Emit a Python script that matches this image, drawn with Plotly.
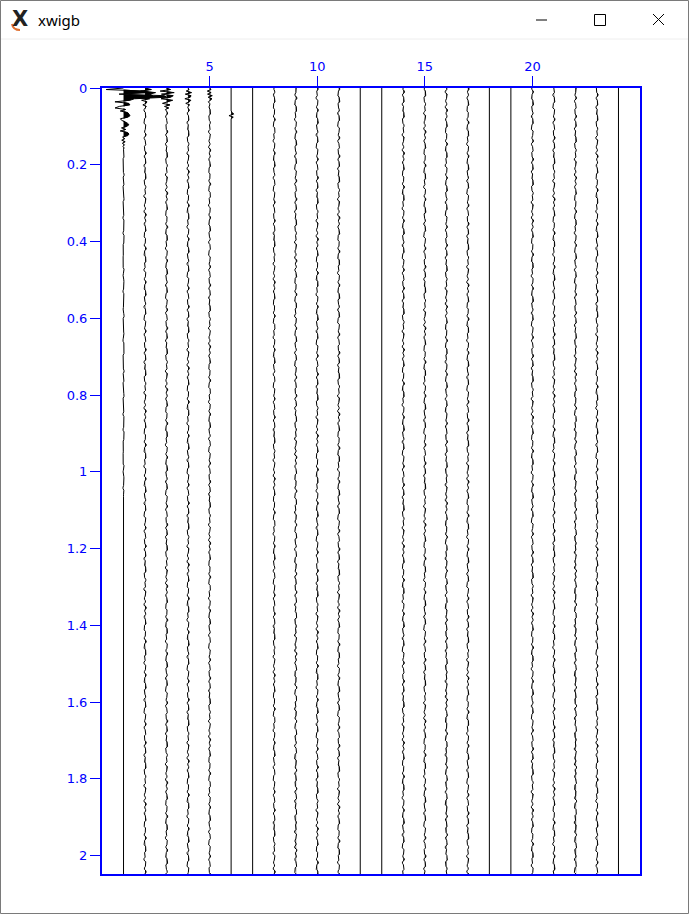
import numpy as np
import plotly.graph_objects as go

# ---------------- data ----------------
trace_numbers = list(range(1, 25))
# relative noise level of each trace (0 = flat trace)
trace_gain = [0.025, 0.055, 0.055, 0.055, 0.05, 0.0, 0.0, 0.05, 0.055, 0.055, 0.055, 0.0,
              0.0, 0.055, 0.055, 0.055, 0.055, 0.0, 0.0, 0.055, 0.055, 0.055, 0.055, 0.0]
sample_interval = 0.004
record_length = 2.048
trace1_noise_end = 1.05

# background noise (unitless, scaled by trace_gain)
noise_pattern = [0.2, -0.6, 0.9, -0.3, -0.8, 0.5, 0.7, -0.4, 0.1, -0.9, 0.6, 0.3,
                 -0.5, 0.8, -0.2, -0.7, 0.4, 0.9, -0.6, -0.1, 0.5, -0.8, 0.3, 0.7,
                 -0.4, -0.9, 0.6, 0.2, -0.3, 0.8, -0.7, 0.1, 0.6, -0.5, -0.2, 0.9,
                 -0.6, 0.3, 0.7, -0.8, 0.2, -0.4, 0.5, 0.8, -0.7, -0.3, 0.6, -0.1,
                 0.4, -0.9, 0.7, 0.1, -0.5, 0.3, -0.8, 0.9, -0.2, 0.5, -0.6, 0.2,
                 0.8, -0.4, -0.7, 0.4]

# early arrivals (amplitude in trace units, one value per sample from t = 0)
trace1_early = [0.0, -0.8, 1.0, 1.2, -0.2, 1.9, 2.0, 0.5, 0.3, -0.4, 0.25, 0.3,
                -0.2, -0.4, 0.1, -0.15, 0.2, 0.25, 0.3, 0.2, -0.15, -0.1, 0.1, 0.2,
                0.25, 0.15, -0.1, 0.1, -0.15, 0.2, 0.25, 0.2, -0.05, 0.05, -0.08, 0.08,
                -0.05, 0.05, -0.03, 0.02, 0.0]
trace2_early = [0.0, 0.3, -0.2, 0.5, 0.2, 0.35, -0.3, 0.2, -0.15, 0.1, 0.05, -0.1, 0.05, 0.0]
trace3_early = [0.0, 0.2, -0.3, 0.35, -0.25, 0.3, 0.2, -0.25, 0.3, 0.1, -0.2, 0.15,
                -0.1, 0.1, -0.05, 0.0]
trace4_early = [0.0, 0.05, -0.1, 0.15, -0.12, 0.15, 0.1, -0.15, 0.12, 0.05, -0.1, 0.08, 0.0]
trace5_early = [0.0, 0.05, -0.1, 0.08, -0.1, 0.12, -0.08, 0.1, 0.05, -0.05, 0.0]
trace6_early = [0.0, 0.0, 0.0, 0.0, 0.0, 0.0, 0.0, 0.0, 0.0, 0.0, 0.0, 0.0, 0.0, 0.0,
                0.0, 0.0, 0.05, 0.12, -0.1, 0.1, 0.0]

x_tick_values = [5, 10, 15, 20]
y_tick_step = 0.2

# ---------------- build traces ----------------
times = np.arange(0, record_length + 1e-9, sample_interval)
n = len(times)
early = {1: trace1_early, 2: trace2_early, 3: trace3_early,
         4: trace4_early, 5: trace5_early, 6: trace6_early}

line_x, line_y, fill_x, fill_y = [], [], [], []
npat = len(noise_pattern)
for k, tr in enumerate(trace_numbers):
    g = trace_gain[k]
    amp = np.array([g * noise_pattern[(i // 2 + 7 * tr) % npat] for i in range(n)])
    if tr == 1:
        amp[times > trace1_noise_end] = 0.0
    if tr in early:
        ev = early[tr]
        m = len(ev)
        amp[:m] = amp[:m] * 0.3 + np.array(ev)
    xs = tr + amp
    line_x += list(xs) + [None]
    line_y += list(times) + [None]
    pos = tr + np.maximum(amp, 0)
    fill_x += list(pos) + [tr] * n + [None]
    fill_y += list(times) + list(times[::-1]) + [None]

fig = go.Figure()
fig.add_trace(go.Scatter(x=fill_x, y=fill_y, mode="lines", fill="toself",
                         fillcolor="black", line=dict(width=0, color="black"),
                         hoverinfo="skip", showlegend=False))
fig.add_trace(go.Scatter(x=line_x, y=line_y, mode="lines",
                         line=dict(width=1, color="black"),
                         hoverinfo="skip", showlegend=False))

W, H = 690, 915
L, R, T, B = 102, 50, 88, 41
PW, PH = W - L - R, H - T - B


def px(xp):
    return (xp - L) / PW


def py(yp):
    return (H - B - yp) / PH


blue = "#0000ff"
fig.update_layout(
    width=W, height=H, autosize=False,
    margin=dict(l=L, r=R, t=T, b=B, pad=0),
    paper_bgcolor="white", plot_bgcolor="white",
    xaxis=dict(range=[0, 25], side="top", tickvals=x_tick_values,
               ticks="outside", ticklen=10, tickcolor=blue, tickwidth=1,
               showline=True, linecolor=blue, linewidth=2, mirror=True,
               showgrid=False, zeroline=False,
               tickfont=dict(family="DejaVu Sans", size=13, color=blue)),
    yaxis=dict(range=[record_length, 0], dtick=y_tick_step, tick0=0,
               ticks="outside", ticklen=10, tickcolor=blue, tickwidth=1,
               showline=True, linecolor=blue, linewidth=2, mirror=True,
               showgrid=False, zeroline=False,
               tickfont=dict(family="DejaVu Sans", size=13, color=blue)),
)

# ---------------- window chrome ----------------
shapes = [
    dict(type="rect", xref="paper", yref="paper", x0=px(0.5), x1=px(688.5),
         y0=py(913.5), y1=py(0.5), line=dict(color="#7a7a7a", width=1)),
    dict(type="line", xref="paper", yref="paper", x0=px(1), x1=px(688),
         y0=py(39), y1=py(39), line=dict(color="#eeeeee", width=1)),
    dict(type="line", xref="paper", yref="paper", x0=px(536), x1=px(547),
         y0=py(20), y1=py(20), line=dict(color="black", width=1)),
    dict(type="rect", xref="paper", yref="paper", x0=px(594.5), x1=px(605.5),
         y0=py(25.5), y1=py(14.5), line=dict(color="black", width=1)),
    dict(type="line", xref="paper", yref="paper", x0=px(653), x1=px(664),
         y0=py(14), y1=py(25), line=dict(color="black", width=1)),
    dict(type="line", xref="paper", yref="paper", x0=px(653), x1=px(664),
         y0=py(25), y1=py(14), line=dict(color="black", width=1)),
    dict(type="path", xref="paper", yref="paper",
         path=f"M {px(12)},{py(24)} Q {px(13)},{py(30)} {px(20)},{py(30)}",
         line=dict(color="#e07030", width=2)),
]
fig.update_layout(shapes=shapes)
fig.add_annotation(xref="paper", yref="paper", x=px(36), y=py(20), text="xwigb",
                   showarrow=False, xanchor="left", yanchor="middle",
                   font=dict(family="Noto Sans", size=15, color="black"))
fig.add_annotation(xref="paper", yref="paper", x=px(20), y=py(19), text="<b>X</b>",
                   showarrow=False, xanchor="center", yanchor="middle",
                   font=dict(family="DejaVu Sans", size=21, color="#222222"))

fig.write_html("out.html")
